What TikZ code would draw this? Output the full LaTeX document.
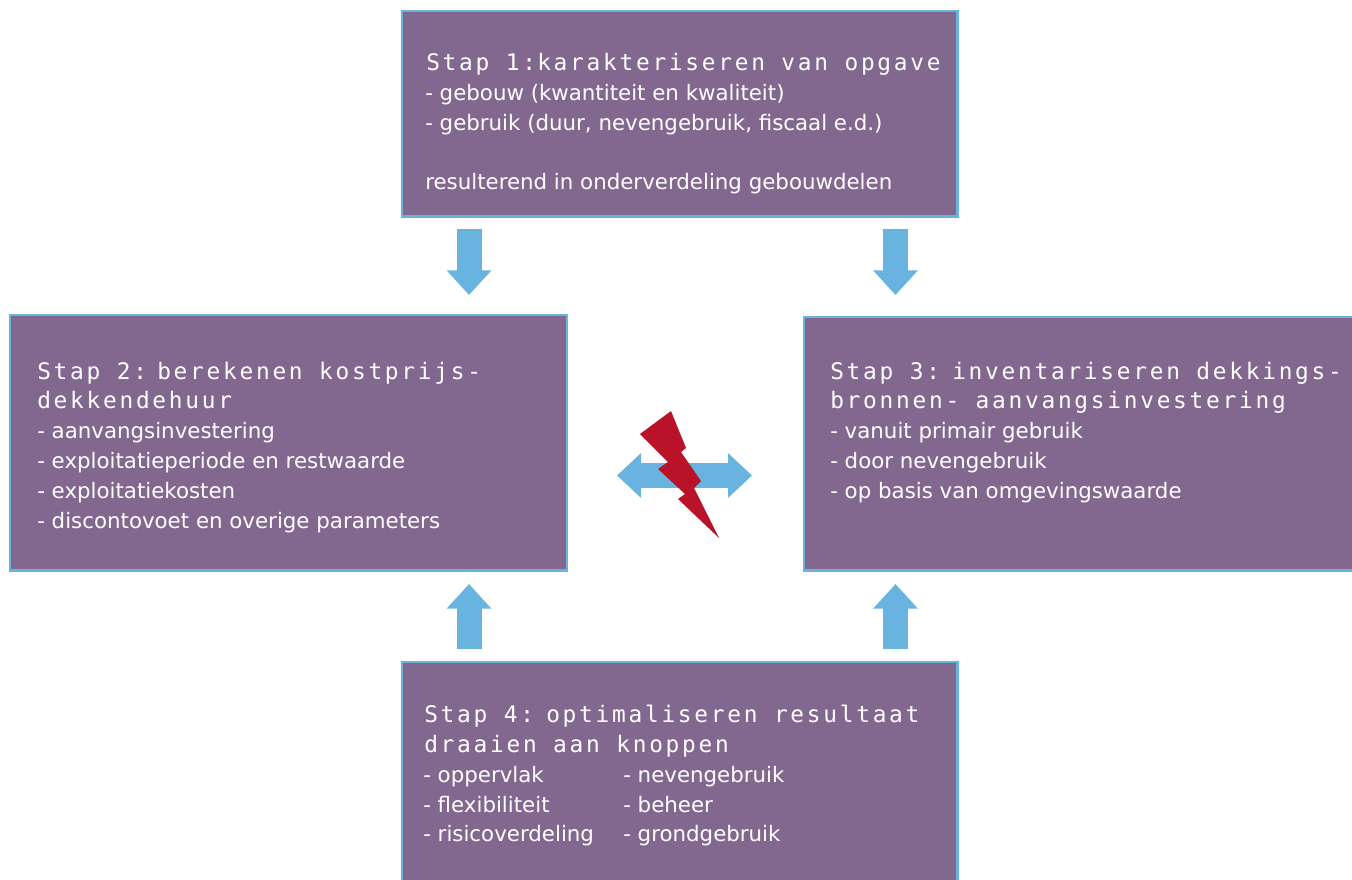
\documentclass[tikz,border=0pt]{standalone}
\usepackage{fontspec}
\setmainfont{DejaVu Sans}
\newfontfamily\headfont[LetterSpace=12,Ligatures=NoCommon]{DejaVu Sans Mono}
\usetikzlibrary{arrows.meta}
\definecolor{boxfill}{HTML}{82688F}
\definecolor{boxline}{HTML}{69B3E0}
\definecolor{boltred}{HTML}{BA1228}
\tikzset{
  x=.75pt,y=-.75pt,
  stepbox/.style={rectangle,draw=boxline,fill=boxfill,line width=1.8pt,anchor=north west,inner sep=0pt},
  head/.style={anchor=base west,inner sep=0pt,text=white,font=\headfont\fontsize{17.1pt}{18pt}\selectfont},
  body/.style={anchor=base west,inner sep=0pt,text=white,font=\fontsize{16pt}{18pt}\selectfont},
  blockarrow/.style={draw=boxline,line width=18.75pt,-{Triangle[length=18.5pt,width=32.5pt,fill=boxline]}},
  doublearrow/.style={draw=boxline,line width=18.75pt,{Triangle[length=18pt,width=32.5pt,fill=boxline]}-{Triangle[length=18pt,width=32.5pt,fill=boxline]}},
}
\begin{document}
\begin{tikzpicture}
\useasboundingbox (0,0) rectangle (1352,879);
\fill[white] (0,0) rectangle (1352,879);
% boxes
\node[stepbox,minimum width=416.5pt,minimum height=154pt] (top) at (401,10) {};
\node[stepbox,minimum width=417.5pt,minimum height=191.5pt] (left) at (9,314) {};
\node[stepbox,minimum width=420pt,minimum height=190pt] (right) at (803,316) {};
\node[stepbox,minimum width=416.5pt,minimum height=170pt] (bottom) at (401,661) {};
% top text
\node[head] (t0) at (426,70) {Stap 1:};
\node[head] (t1) at (537,70) {karakteriseren van opgave};
\node[body] (t2) at (425,100) {- gebouw (kwantiteit en kwaliteit)};
\node[body] (t3) at (425,130) {- gebruik (duur, nevengebruik, fiscaal e.d.)};
\node[body] (t4) at (425,189) {resulterend in onderverdeling gebouwdelen};
% left text
\node[head] (l0) at (37,379) {Stap 2:};
\node[head] (l1) at (157,379) {berekenen kostprijs-};
\node[head] (l2) at (37,408) {dekkendehuur};
\node[body] (l3) at (37,438) {- aanvangsinvestering};
\node[body] (l4) at (37,468) {- exploitatieperiode en restwaarde};
\node[body] (l5) at (37,498) {- exploitatiekosten};
\node[body] (l6) at (37,528) {- discontovoet en overige parameters};
% right text
\node[head] (r0) at (830,379) {Stap 3:};
\node[head] (r1) at (952,379) {inventariseren dekkings-};
\node[head] (r2) at (830,408) {bronnen- aanvangsinvestering};
\node[body] (r3) at (830,438) {- vanuit primair gebruik};
\node[body] (r4) at (830,468) {- door nevengebruik};
\node[body] (r5) at (830,498) {- op basis van omgevingswaarde};
% bottom text
\node[head] (b0) at (424,722) {Stap 4:};
\node[head] (b1) at (546,722) {optimaliseren resultaat};
\node[head] (b2) at (424,752) {draaien aan knoppen};
\node[body] (b3) at (423,782) {- oppervlak};
\node[body] (b4) at (423,812) {- flexibiliteit};
\node[body] (b5) at (423,841) {- risicoverdeling};
\node[body] (b6) at (623,782) {- nevengebruik};
\node[body] (b7) at (623,812) {- beheer};
\node[body] (b8) at (623,841) {- grondgebruik};
% arrows
\coordinate (a1s) at (469,229); \coordinate (a1e) at (469,295);
\coordinate (a2s) at (895.5,229); \coordinate (a2e) at (895.5,295);
\coordinate (a3s) at (469,649); \coordinate (a3e) at (469,584);
\coordinate (a4s) at (895.5,649); \coordinate (a4e) at (895.5,584);
\coordinate (a5s) at (617,475.5); \coordinate (a5e) at (752,475.5);
\draw[blockarrow] (a1s) -- (a1e);
\draw[blockarrow] (a2s) -- (a2e);
\draw[blockarrow] (a3s) -- (a3e);
\draw[blockarrow] (a4s) -- (a4e);
\draw[doublearrow] (a5s) -- (a5e);
% bolt
\fill[boltred] (671,411) -- (686,448) -- (681,452) -- (701,481) -- (694,488) -- (719,538) -- (678,499) -- (685,494) -- (658,469) -- (668,462) -- (640,434) -- cycle;
\end{tikzpicture}
\end{document}
